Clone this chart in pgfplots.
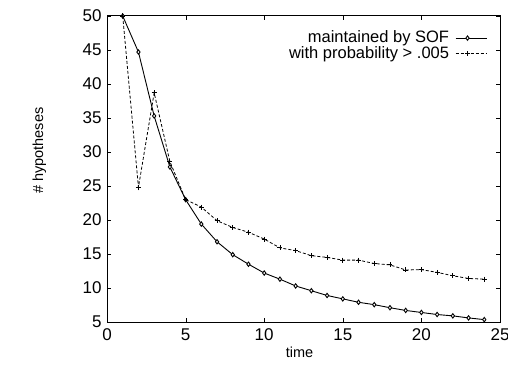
\documentclass[border=0pt]{standalone}
\usepackage{fontspec}
\setmainfont{Liberation Sans}
\usepackage{pgfplots}
\pgfplotsset{compat=1.18}
\begin{document}
\fontsize{16}{19}\selectfont
\begin{tikzpicture}
\begin{axis}[
  name=ax,
  scale only axis,
  width=393pt, height=306pt,
  xmin=0, xmax=25, ymin=5, ymax=50,
  xtick={0,5,...,25}, ytick={5,10,...,50},
  tick align=inside,
  major tick length=4pt,
  axis line style={line width=1pt},
  /pgf/number format/assume math mode=true,
  ticklabel style={font=\fontsize{17}{19}\selectfont},
  xticklabel style={yshift=-1pt},
  xtick style={black}, ytick style={black},
  xlabel={time}, ylabel={\# hypotheses},
  label style={font=\fontsize{14.5}{17}\selectfont},
  xlabel style={at={(axis description cs:0.49,-0.1)}, anchor=center},
  ylabel style={at={(axis description cs:-0.172,0.56)}, anchor=center},
  legend style={draw=none, fill=none, at={(0.975,0.965)}, anchor=north east,
    font=\fontsize{16.5}{18}\selectfont, row sep=-3pt,
    /tikz/every odd column/.append style={column sep=4pt}},
  legend cell align=right,
  legend plot pos=right,
  legend image code/.code={\draw[mark repeat=2,mark phase=2] plot coordinates {(0pt,0pt) (12pt,0pt) (31pt,0pt)};},
  clip=false,
]
\addplot[black, line width=0.9pt, mark=diamond*, mark size=2.2pt, mark options={fill=white, solid}]
coordinates {
(1,50) (2,44.7) (3,35.3) (4,27.8) (5,23.0) (6,19.4) (7,16.8) (8,14.9) (9,13.5) (10,12.2)
(11,11.3) (12,10.3) (13,9.6) (14,8.9) (15,8.4) (16,7.9) (17,7.55) (18,7.1) (19,6.7) (20,6.4)
(21,6.1) (22,5.9) (23,5.6) (24,5.35)};
\addlegendentry{maintained by SOF}
\addplot[black, line width=0.8pt, densely dashed, mark=+, mark size=2.5pt, mark options={solid}]
coordinates {
(1,50) (2,24.8) (3,38.7) (4,28.6) (5,23.0) (6,21.9) (7,19.9) (8,18.9) (9,18.2) (10,17.2)
(11,15.9) (12,15.5) (13,14.75) (14,14.5) (15,14.1) (16,14.1) (17,13.6) (18,13.4) (19,12.65) (20,12.7)
(21,12.3) (22,11.8) (23,11.4) (24,11.3)};
\addlegendentry{with probability > .005}
\end{axis}
\pgfresetboundingbox
\path ([shift={(-107pt,-42pt)}]ax.south west) rectangle ([shift={(8pt,16pt)}]ax.north east);
\end{tikzpicture}
\end{document}
